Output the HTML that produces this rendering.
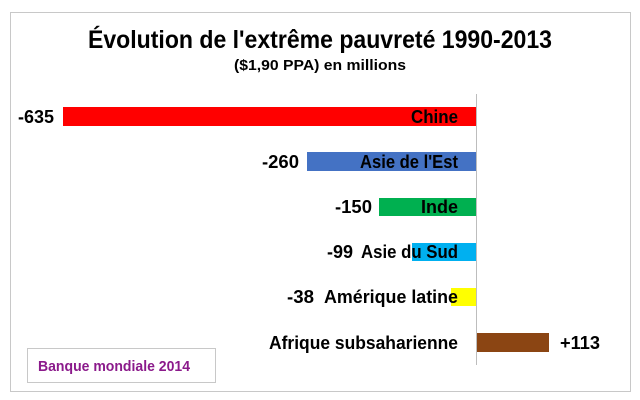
<!DOCTYPE html>
<html><head><meta charset="utf-8"><style>
html,body{margin:0;padding:0;background:#fff;}
svg{display:block;}
text{font-family:"Liberation Sans",sans-serif;font-weight:bold;fill:#000;}
</style></head><body>
<svg width="640" height="400" viewBox="0 0 640 400" xmlns="http://www.w3.org/2000/svg">
<rect x="0" y="0" width="640" height="400" fill="#fff"/>
<rect x="10.5" y="12.5" width="620" height="379" fill="#fff" stroke="#c8c8c8" stroke-width="1"/>
<text x="320" y="48" font-size="25" text-anchor="middle" textLength="464" lengthAdjust="spacingAndGlyphs">Évolution de l'extrême pauvreté 1990-2013</text>
<text x="320" y="70" font-size="15" text-anchor="middle" textLength="172" lengthAdjust="spacingAndGlyphs">($1,90 PPA)  en  millions</text>
<line x1="476.5" y1="94" x2="476.5" y2="365" stroke="#bdbdbd" stroke-width="1"/>
<rect x="63" y="107" width="413" height="19" fill="#ff0000"/>
<rect x="307" y="152" width="169" height="19" fill="#4472c4"/>
<rect x="379" y="198" width="97" height="18" fill="#00b050"/>
<rect x="412" y="243" width="64" height="18" fill="#00b0f0"/>
<rect x="451" y="288" width="25" height="18" fill="#ffff00"/>
<rect x="477" y="333" width="72" height="19" fill="#8b4513"/>
<g font-size="18.5">
<text x="458" y="123" text-anchor="end" textLength="47" lengthAdjust="spacingAndGlyphs">Chine</text>
<text x="18" y="123" textLength="36" lengthAdjust="spacingAndGlyphs">-635</text>
<text x="458" y="168" text-anchor="end" textLength="98" lengthAdjust="spacingAndGlyphs">Asie de l'Est</text>
<text x="262" y="168" textLength="37" lengthAdjust="spacingAndGlyphs">-260</text>
<text x="458" y="213" text-anchor="end" textLength="37" lengthAdjust="spacingAndGlyphs">Inde</text>
<text x="335" y="213" textLength="37" lengthAdjust="spacingAndGlyphs">-150</text>
<text x="458" y="258" text-anchor="end" textLength="97" lengthAdjust="spacingAndGlyphs">Asie du Sud</text>
<text x="327" y="258" textLength="26" lengthAdjust="spacingAndGlyphs">-99</text>
<text x="458" y="303" text-anchor="end" textLength="134" lengthAdjust="spacingAndGlyphs">Amérique latine</text>
<text x="287" y="303" textLength="27" lengthAdjust="spacingAndGlyphs">-38</text>
<text x="458" y="349" text-anchor="end" textLength="189" lengthAdjust="spacingAndGlyphs">Afrique subsaharienne</text>
<text x="560" y="349" textLength="40" lengthAdjust="spacingAndGlyphs">+113</text>
</g>
<rect x="27.5" y="348.5" width="188" height="34" fill="#fff" stroke="#c8c8c8" stroke-width="1"/>
<text x="38" y="371" font-size="15" style="fill:#8b1a8b" textLength="152" lengthAdjust="spacingAndGlyphs">Banque mondiale 2014</text>
</svg>
</body></html>
